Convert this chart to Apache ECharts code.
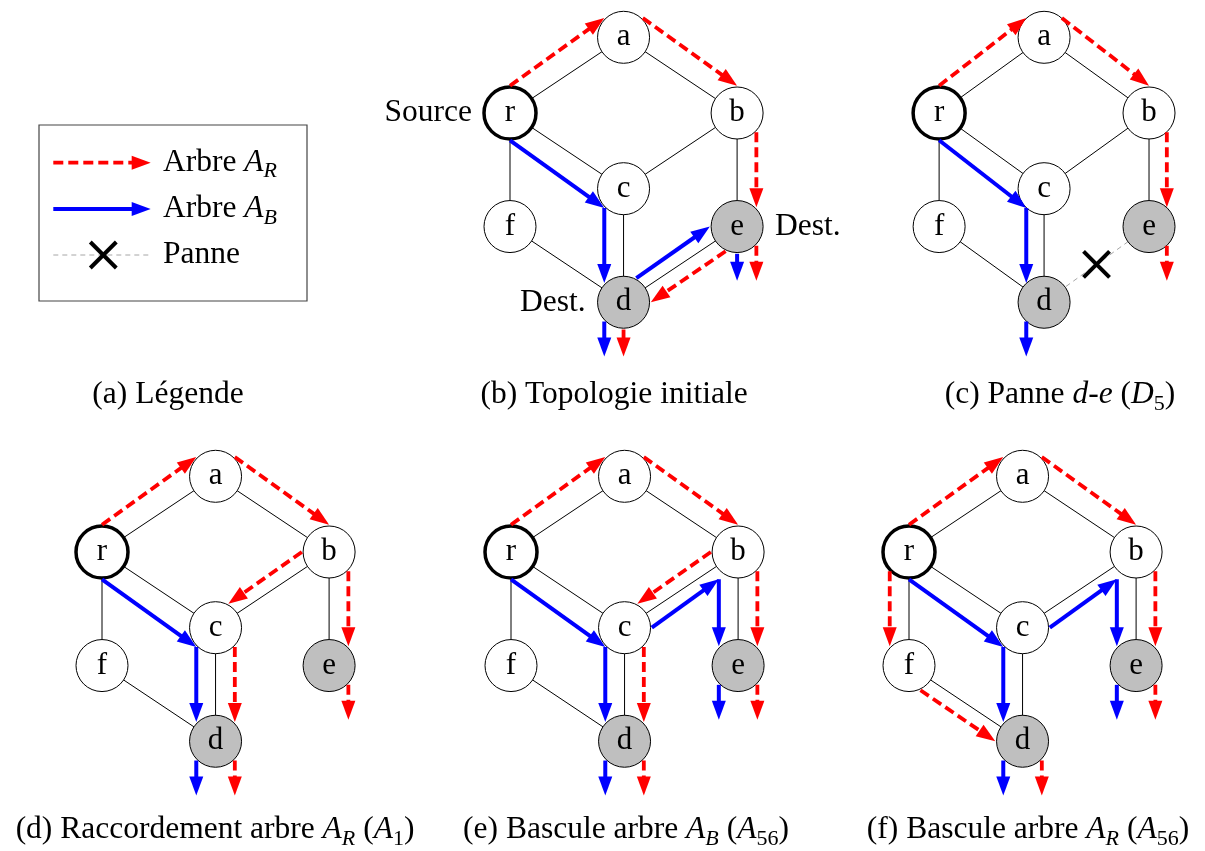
<!DOCTYPE html>
<html><head><meta charset="utf-8">
<script src="https://cdn.jsdelivr.net/npm/echarts@6/dist/echarts.min.js"></script>
<style>html,body{margin:0;padding:0;background:#fff}#c{width:1205px;height:851px}</style>
</head><body><div id="c"></div>
<script>
// ================= DATA =================
// Network topology (layout units)
const NODE_NAMES = ['r', 'a', 'b', 'c', 'f', 'e', 'd'];
const NODE_X = [0, 1.5, 3, 1.5, 0, 3, 1.5];
const NODE_Y = [0, 1, 0, -1, -1.5, -1.5, -2.5];
const SOURCE_NODE = 'r';
const DEST_NODES = ['d', 'e'];
const LINKS = [['r','a'],['a','b'],['r','c'],['b','c'],['r','f'],['c','d'],['b','e'],['f','d'],['d','e']];

// Panels
const PANEL_IDS = ['b', 'c', 'd', 'e', 'f'];
const CAPTIONS = [
  '(a) Légende',
  '(b) Topologie initiale',
  '(c) Panne {i|d}-{i|e} ({i|D}{s|5})',
  '(d) Raccordement arbre {i|A}{si|R} ({i|A}{s|1})',
  '(e) Bascule arbre {i|A}{si|B} ({i|A}{s|56})',
  '(f) Bascule arbre {i|A}{si|R} ({i|A}{s|56})'
];
const LEGEND_TEXTS = ['Arbre {i|A}{si|R}', 'Arbre {i|A}{si|B}', 'Panne'];
const ANNOTATIONS_B = [['r', 'Source', 'left'], ['e', 'Dest.', 'right'], ['d', 'Dest.', 'left']];

// Tree arcs: [fromNode, fromAnchor, toNode | 'OUT', toAnchor]
const RED_B  = [['r','N','a','NW'], ['a','NE','b','N'], ['b','SE','e','NE'], ['e','SE','OUT'], ['e','A245','d','E'], ['d','S','OUT']];
const BLUE_B = [['r','S','c','SW'], ['c','SW','d','NW'], ['d','SW','OUT'], ['d','A62','e','W'], ['e','S','OUT']];
const RED_C  = [['r','N','a','NW'], ['a','NE','b','N'], ['b','SE','e','NE'], ['e','SE','OUT']];
const BLUE_C = [['r','S','c','SW'], ['c','SW','d','NW'], ['d','SW','OUT']];
const FAILED_C = [['d','e']];
const RED_D  = [['r','N','a','NW'], ['a','NE','b','N'], ['b','W','c','A62'], ['b','SE','e','NE'], ['e','SE','OUT'], ['c','SE','d','NE'], ['d','SE','OUT']];
const BLUE_D = [['r','S','c','SW'], ['c','SW','d','NW'], ['d','SW','OUT']];
const RED_E  = [['r','N','a','NW'], ['a','NE','b','N'], ['b','W','c','A62'], ['b','SE','e','NE'], ['e','SE','OUT'], ['c','SE','d','NE'], ['d','SE','OUT']];
const BLUE_E = [['r','S','c','SW'], ['c','SW','d','NW'], ['d','SW','OUT'], ['c','E','b','SWS'], ['b','SWS','e','NW'], ['e','SW','OUT']];
const RED_F  = [['r','N','a','NW'], ['a','NE','b','N'], ['r','SW','f','NW'], ['f','A295','d','W'], ['b','SE','e','NE'], ['e','SE','OUT'], ['d','SE','OUT']];
const BLUE_F = [['r','S','c','SW'], ['c','SW','d','NW'], ['d','SW','OUT'], ['c','E','b','SWS'], ['b','SWS','e','NW'], ['e','SW','OUT']];
const REMOVED_AFTER_FAILURE = [['d','e']];   // link gone in panels d, e, f

// ================= LAYOUT & STYLE =================
const PANEL_RED = { b: RED_B, c: RED_C, d: RED_D, e: RED_E, f: RED_F };
const PANEL_BLUE = { b: BLUE_B, c: BLUE_C, d: BLUE_D, e: BLUE_E, f: BLUE_F };
const PANEL_FAILED = { c: FAILED_C };
const PANEL_REMOVED = { d: REMOVED_AFTER_FAILURE, e: REMOVED_AFTER_FAILURE, f: REMOVED_AFTER_FAILURE };
const SCALE = 75.7;                       // px per layout unit
const ORIGIN = { b: [510, 113], c: [946, 113], d: [102, 552], e: [511, 552], f: [909, 552] }; // pixel pos of node r
const XR = [-1.2, 3.8], YR = [-3.6, 1.45];
const CAPTION_POS = [[168, 395], [614, 395], [1060, 395], [215, 830], [626, 830], [1028, 830]];
const FONT = "'Liberation Serif','Times New Roman',serif";
const FS = 31.5;
const NODE_FS = 31;
const NODE_SIZE = 52;
const AR = 0.36;            // anchor radius (units)
const OUT_DROP = 0.715;     // outgoing arrow tip below node centre (units)
const ANCHOR_DEG = { N: 90, S: 270, E: 0, W: 180, NE: 45, NW: 135, SE: 315, SW: 225, A62: 62, A245: 245, A295: 295 };
const HEAD_L = 19, HEAD_W = 14;
const STYLES = {
  0: { color: '#000000', width: 1, dash: null },            // link
  1: { color: '#a6a6a6', width: 1, dash: [5, 4] },          // failed link
  2: { color: '#ff0000', width: 3.8, dash: [10, 5] },       // tree A_R
  3: { color: '#0000ff', width: 4, dash: null }             // tree A_B
};
const RICH = {
  i: { fontStyle: 'italic', fontSize: FS, fontFamily: FONT, lineHeight: 40 },
  si: { fontStyle: 'italic', fontSize: 22, fontFamily: FONT, lineHeight: 22, verticalAlign: 'bottom' },
  s: { fontSize: 22, fontFamily: FONT, lineHeight: 22, verticalAlign: 'bottom' }
};

function nodePos(n) { const i = NODE_NAMES.indexOf(n); return [NODE_X[i], NODE_Y[i]]; }
function anchorPt(n, a) {
  const p = nodePos(n);
  if (a === 'SWS') return [p[0] - AR * Math.SQRT1_2, p[1] - AR];
  const t = ANCHOR_DEG[a] * Math.PI / 180;
  return [p[0] + AR * Math.cos(t), p[1] + AR * Math.sin(t)];
}
function arcToData(arc, kind) {
  const s = anchorPt(arc[0], arc[1]);
  const e = arc[2] === 'OUT' ? [s[0], nodePos(arc[0])[1] - OUT_DROP] : anchorPt(arc[2], arc[3]);
  return [s[0], s[1], e[0], e[1], kind];
}
const sameLink = (l, f) => (f[0] === l[0] && f[1] === l[1]) || (f[0] === l[1] && f[1] === l[0]);

function renderLink(params, api) {
  const p1 = api.coord([api.value(0), api.value(1)]);
  const p2 = api.coord([api.value(2), api.value(3)]);
  const st = STYLES[api.value(4)];
  return { type: 'line', shape: { x1: p1[0], y1: p1[1], x2: p2[0], y2: p2[1] },
    style: { stroke: st.color, lineWidth: st.width, lineDash: st.dash, fill: null } };
}
function renderArrow(params, api) {
  const p1 = api.coord([api.value(0), api.value(1)]);
  const p2 = api.coord([api.value(2), api.value(3)]);
  const st = STYLES[api.value(4)];
  const dx = p2[0] - p1[0], dy = p2[1] - p1[1], L = Math.hypot(dx, dy);
  const ux = dx / L, uy = dy / L;
  const bx = p2[0] - ux * HEAD_L, by = p2[1] - uy * HEAD_L;
  const nx = -uy * HEAD_W / 2, ny = ux * HEAD_W / 2;
  return { type: 'group', children: [
    { type: 'line', shape: { x1: p1[0], y1: p1[1], x2: p2[0] - ux * HEAD_L * 0.75, y2: p2[1] - uy * HEAD_L * 0.75 },
      style: { stroke: st.color, lineWidth: st.width, lineDash: st.dash, fill: null } },
    { type: 'polygon', shape: { points: [[p2[0], p2[1]], [bx + nx, by + ny], [bx - nx, by - ny]] },
      style: { fill: st.color, stroke: null } }
  ] };
}
function renderCross(params, api) {
  const p = api.coord([api.value(0), api.value(1)]);
  const h = 13;
  const st = { stroke: '#000', lineWidth: 4, fill: null };
  return { type: 'group', children: [
    { type: 'line', shape: { x1: p[0] - h, y1: p[1] - h, x2: p[0] + h, y2: p[1] + h }, style: st },
    { type: 'line', shape: { x1: p[0] - h, y1: p[1] + h, x2: p[0] + h, y2: p[1] - h }, style: st }
  ] };
}

const grids = [], xAxes = [], yAxes = [], series = [];
const common = { silent: true, animation: false };

PANEL_IDS.forEach((p, k) => {
  const o = ORIGIN[p];
  grids.push({ left: o[0] + XR[0] * SCALE, top: o[1] - YR[1] * SCALE,
    width: (XR[1] - XR[0]) * SCALE, height: (YR[1] - YR[0]) * SCALE, containLabel: false });
  xAxes.push({ type: 'value', gridIndex: k, min: XR[0], max: XR[1], show: false });
  yAxes.push({ type: 'value', gridIndex: k, min: YR[0], max: YR[1], show: false });

  const failed = PANEL_FAILED[p] || [];
  const removed = PANEL_REMOVED[p] || [];
  const linkData = LINKS.filter(l => !removed.some(f => sameLink(l, f))).map(l => {
    const a = nodePos(l[0]), b = nodePos(l[1]);
    return [a[0], a[1], b[0], b[1], failed.some(f => sameLink(l, f)) ? 1 : 0];
  });
  series.push(Object.assign({ type: 'custom', xAxisIndex: k, yAxisIndex: k, z: 2, renderItem: renderLink,
    dimensions: ['x1', 'y1', 'x2', 'y2', 'k'], encode: { x: [0, 2], y: [1, 3] }, data: linkData }, common));

  series.push(Object.assign({ type: 'scatter', xAxisIndex: k, yAxisIndex: k, z: 3, symbol: 'circle', symbolSize: NODE_SIZE,
    data: NODE_NAMES.map((n, i) => ({ name: n, value: [NODE_X[i], NODE_Y[i]],
      itemStyle: { color: DEST_NODES.includes(n) ? '#bfbfbf' : '#ffffff', borderColor: '#000',
        borderWidth: n === SOURCE_NODE ? 3.5 : 1, opacity: 1 } })),
    label: { show: true, position: 'inside', formatter: '{b}', fontSize: NODE_FS, fontFamily: FONT, color: '#000' }
  }, common));

  if (p === 'b') {
    series.push(Object.assign({ type: 'scatter', xAxisIndex: k, yAxisIndex: k, z: 1, symbol: 'circle', symbolSize: NODE_SIZE,
      itemStyle: { color: '#ffffff', opacity: 1 },
      data: ANNOTATIONS_B.map(a => ({ name: a[1], value: nodePos(a[0]),
        label: { show: true, position: a[2], distance: 12, formatter: '{b}', fontSize: FS, fontFamily: FONT,
          color: '#000000', opacity: 1, textBorderWidth: 0 } }))
    }, common));
  }

  const arrows = PANEL_RED[p].map(a => arcToData(a, 2)).concat(PANEL_BLUE[p].map(a => arcToData(a, 3)));
  series.push(Object.assign({ type: 'custom', xAxisIndex: k, yAxisIndex: k, z: 5, renderItem: renderArrow,
    dimensions: ['x1', 'y1', 'x2', 'y2', 'k'], encode: { x: [0, 2], y: [1, 3] }, data: arrows }, common));

  if (failed.length) {
    const crosses = failed.map(f => { const a = nodePos(f[0]), b = nodePos(f[1]); return [(a[0] + b[0]) / 2, (a[1] + b[1]) / 2]; });
    series.push(Object.assign({ type: 'custom', xAxisIndex: k, yAxisIndex: k, z: 6, renderItem: renderCross,
      encode: { x: 0, y: 1 }, data: crosses }, common));
  }
});

// Legend panel (a)
const LG = PANEL_IDS.length;
grids.push({ left: 39, top: 125, width: 268, height: 176, show: true, borderColor: '#444', borderWidth: 1.2, backgroundColor: '#fff' });
xAxes.push({ type: 'value', gridIndex: LG, min: 0, max: 268, show: false });
yAxes.push({ type: 'value', gridIndex: LG, min: 0, max: 176, inverse: true, show: false });
const LEG_ROWS = [37.7, 84, 130];
series.push(Object.assign({ type: 'custom', xAxisIndex: LG, yAxisIndex: LG, z: 5, renderItem: renderArrow,
  dimensions: ['x1', 'y1', 'x2', 'y2', 'k'], encode: { x: [0, 2], y: [1, 3] },
  data: [[14.3, LEG_ROWS[0], 111.7, LEG_ROWS[0], 2], [14.3, LEG_ROWS[1], 111.7, LEG_ROWS[1], 3]] }, common));
series.push(Object.assign({ type: 'custom', xAxisIndex: LG, yAxisIndex: LG, z: 4, renderItem: renderLink,
  dimensions: ['x1', 'y1', 'x2', 'y2', 'k'], encode: { x: [0, 2], y: [1, 3] },
  data: [[14.3, LEG_ROWS[2], 111.7, LEG_ROWS[2], 1]] }, common));
series.push(Object.assign({ type: 'custom', xAxisIndex: LG, yAxisIndex: LG, z: 6, renderItem: renderCross,
  encode: { x: 0, y: 1 }, data: [[64.3, LEG_ROWS[2]]] }, common));

const textStyle = (t, x, y, align) => ({ type: 'text', x: x, y: y, silent: true,
  style: { text: t, fontSize: FS, fontFamily: FONT, fill: '#000', align: align, verticalAlign: 'middle',
    textAlign: align, textVerticalAlign: 'middle', lineHeight: 40, rich: RICH } });
const graphics = CAPTIONS.map((t, i) => textStyle(t, CAPTION_POS[i][0], CAPTION_POS[i][1], 'center'))
  .concat(LEGEND_TEXTS.map((t, i) => textStyle(t, 163, 125 + LEG_ROWS[i], 'left')));

const chart = echarts.init(document.getElementById('c'), null, { renderer: 'canvas', width: 1205, height: 851 });
chart.setOption({ animation: false, backgroundColor: '#ffffff', grid: grids, xAxis: xAxes, yAxis: yAxes, series: series, graphic: graphics });
</script></body></html>
